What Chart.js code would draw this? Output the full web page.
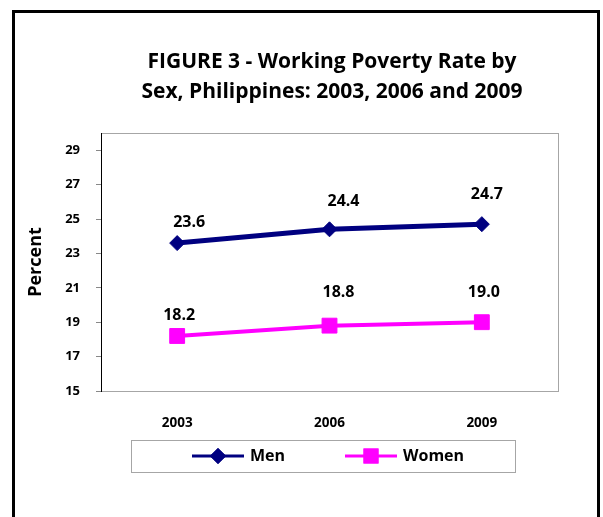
<!DOCTYPE html>
<html>
<head>
<meta charset="utf-8">
<title>Working Poverty Rate by Sex</title>
<script src="https://cdn.jsdelivr.net/npm/chart.js@4.4.1/dist/chart.umd.min.js"></script>
<style>
  body { margin: 0; background: #fff; }
  canvas { display: block; }
</style>
</head>
<body>
<canvas id="povertyChart" width="603" height="517"></canvas>
<script>
// chart values
const years = ['2003', '2006', '2009'];
const menRate = [23.6, 24.4, 24.7];
const womenRate = [18.2, 18.8, 19.0];
const yTicks = [15, 17, 19, 21, 23, 25, 27, 29];
const titleLines = ['FIGURE 3 - Working Poverty Rate by', 'Sex, Philippines: 2003, 2006 and 2009'];

const FONT = '"Open Sans", Lato, sans-serif';
const NAVY = '#000080';
const PINK = '#FF00FF';
const FRAME_GREY = '#a6a6a6';

// little nudges for the value labels, [dx, dy] from the marker
const labelShift = [
  [[12, -21], [14, -28], [5, -30]],
  [[2, -21], [9, -33], [2, -30]]
];

// outer box, plot frame, title
const framePlugin = {
  id: 'frame',
  beforeDraw(chart) {
    const ctx = chart.ctx;
    ctx.save();
    ctx.fillStyle = '#fff';
    ctx.fillRect(0, 0, chart.width, chart.height);
    ctx.strokeStyle = '#000';
    ctx.lineWidth = 3;
    ctx.strokeRect(13.5, 11.5, 585, 520);

    ctx.fillStyle = '#000';
    ctx.font = 'bold 21px ' + FONT;
    ctx.textAlign = 'center';
    ctx.textBaseline = 'alphabetic';
    ctx.fillText(titleLines[0], 332, 68);
    ctx.fillText(titleLines[1], 332, 98);
    ctx.restore();
  },
  beforeDatasetsDraw(chart) {
    const { ctx, chartArea: a } = chart;
    ctx.save();
    ctx.strokeStyle = FRAME_GREY;
    ctx.lineWidth = 1;
    ctx.strokeRect(Math.round(a.left) + 0.5, Math.round(a.top) + 0.5,
      Math.round(a.right - a.left), Math.round(a.bottom - a.top));
    ctx.strokeStyle = '#000';
    ctx.beginPath();
    ctx.moveTo(Math.round(a.left) + 0.5, a.top);
    ctx.lineTo(Math.round(a.left) + 0.5, a.bottom + 1);
    ctx.stroke();
    ctx.restore();
  }
};

// numbers above each marker
const valueLabels = {
  id: 'valueLabels',
  afterDatasetsDraw(chart) {
    const ctx = chart.ctx;
    ctx.save();
    ctx.fillStyle = '#000';
    ctx.font = 'bold 16px ' + FONT;
    ctx.textAlign = 'center';
    ctx.textBaseline = 'middle';
    chart.data.datasets.forEach((ds, i) => {
      chart.getDatasetMeta(i).data.forEach((pt, j) => {
        const s = labelShift[i][j];
        ctx.fillText(ds.data[j].toFixed(1), pt.x + s[0], pt.y + s[1]);
      });
    });
    ctx.restore();
  }
};

// boxed legend under the axis
const boxLegend = {
  id: 'boxLegend',
  afterDraw(chart) {
    const ctx = chart.ctx;
    ctx.save();
    ctx.strokeStyle = FRAME_GREY;
    ctx.lineWidth = 1;
    ctx.strokeRect(131.5, 440.5, 384, 32);

    const cy = 456;
    const items = [
      { x: 192, ds: chart.data.datasets[0] },
      { x: 345, ds: chart.data.datasets[1] }
    ];
    items.forEach(it => {
      const ds = it.ds;
      ctx.strokeStyle = ds.borderColor;
      ctx.lineWidth = 3;
      ctx.beginPath();
      ctx.moveTo(it.x, cy);
      ctx.lineTo(it.x + 52, cy);
      ctx.stroke();
      Chart.helpers.drawPoint(ctx, {
        pointStyle: ds.pointStyle,
        radius: ds.pointStyle === 'rect' ? 8.5 : 6,
        borderWidth: 1,
        rotation: 0
      }, it.x + 26, cy);
      ctx.fillStyle = ds.borderColor;
      ctx.strokeStyle = ds.borderColor;
      ctx.fill();
      ctx.stroke();
      ctx.fillStyle = '#000';
      ctx.font = 'bold 16px ' + FONT;
      ctx.textAlign = 'left';
      ctx.textBaseline = 'middle';
      ctx.fillText(ds.label, it.x + 58, cy);
    });
    ctx.restore();
  }
};

new Chart(document.getElementById('povertyChart'), {
  type: 'line',
  data: {
    labels: years,
    datasets: [
      {
        label: 'Men',
        data: menRate,
        borderColor: NAVY,
        backgroundColor: NAVY,
        borderWidth: 5,
        pointStyle: 'rectRot',
        pointRadius: 7.5,
        pointBorderWidth: 1,
        tension: 0
      },
      {
        label: 'Women',
        data: womenRate,
        borderColor: PINK,
        backgroundColor: PINK,
        borderWidth: 4,
        pointStyle: 'rect',
        pointRadius: 10.5,
        pointBorderWidth: 1,
        tension: 0
      }
    ]
  },
  options: {
    responsive: false,
    animation: false,
    layout: { padding: { top: 133, left: 21, right: 45, bottom: 0 } },
    plugins: {
      legend: { display: false },
      title: { display: false },
      tooltip: { enabled: false }
    },
    scales: {
      x: {
        offset: true,
        grid: { display: false, drawTicks: false },
        border: { display: false },
        ticks: {
          padding: 24,
          color: '#000',
          font: { family: FONT, size: 13.5, weight: 'bold' }
        },
        afterFit(scale) { scale.height = 126; }
      },
      y: {
        min: 15,
        max: 30,
        afterBuildTicks(scale) {
          scale.ticks = yTicks.map(v => ({ value: v }));
        },
        grid: {
          drawOnChartArea: false,
          tickLength: 5,
          color: '#888'
        },
        border: { display: false },
        ticks: {
          padding: 16,
          color: '#000',
          font: { family: FONT, size: 13, weight: 'bold' }
        },
        title: {
          display: true,
          text: 'Percent',
          color: '#000',
          font: { family: FONT, size: 18, weight: 'bold' }
        },
        afterFit(scale) { scale.width = 80; }
      }
    }
  },
  plugins: [framePlugin, valueLabels, boxLegend]
});
</script>
</body>
</html>
